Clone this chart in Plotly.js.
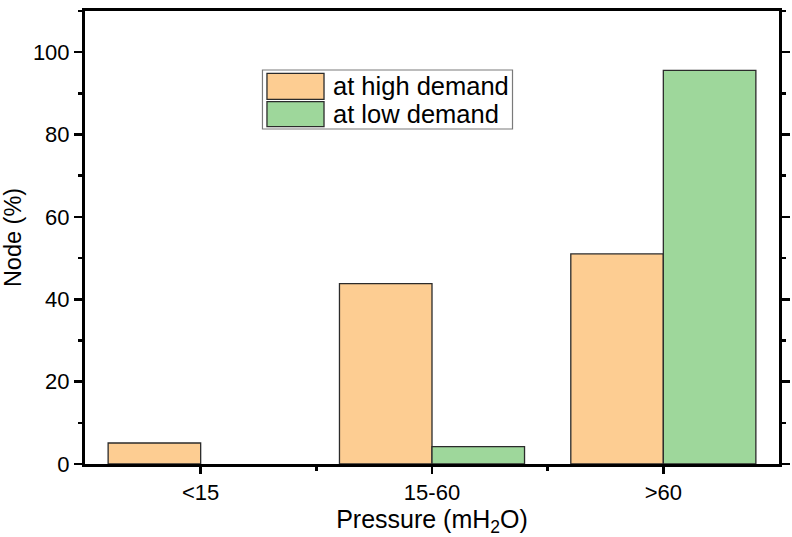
<!DOCTYPE html>
<html>
<head>
<meta charset="utf-8">
<script src="https://cdn.plot.ly/plotly-3.0.1.min.js"></script>
<style>html,body{margin:0;padding:0;background:#fff}#chart{width:792px;height:537px}</style>
</head>
<body>
<div id="chart"></div>
<script>
// ---- data ----
const categories = ['<15', '15-60', '>60'];
const seriesNames = ['at high demand', 'at low demand'];
const highDemand = [5.1, 43.8, 51.0];
const lowDemand = [0, 4.2, 95.6];
const yTickVals = [0, 20, 40, 60, 80, 100];
const yTickText = ['0', '20', '40', '60', '80', '100'];

// ---- styles ----
const colHigh = '#FDCD92';
const colLow = '#9ED79B';
const edge = '#2b2b2b';
const font = "'Liberation Sans', Arial, sans-serif";
const txt = '#000';

const xIdx = categories.map((_, i) => i);
const edgeW = v => (v > 0 ? 1.3 : 0);

const traces = [
  {type: 'bar', name: seriesNames[0], x: xIdx, y: highDemand,
   marker: {color: colHigh, line: {color: edge, width: highDemand.map(edgeW)}}, showlegend: false},
  {type: 'bar', name: seriesNames[1], x: xIdx, y: lowDemand,
   marker: {color: colLow, line: {color: edge, width: lowDemand.map(edgeW)}}, showlegend: false}
];

// custom legend (box, swatches, labels) in paper coords
const lg = {x0: 0.2557, x1: 0.6160, y0: 0.7395, y1: 0.8698};
const sw = [{y0: 0.8050, y1: 0.8625}, {y0: 0.7446, y1: 0.7998}];
const cols = [colHigh, colLow];
const shapes = [
  {type: 'rect', xref: 'paper', yref: 'paper', x0: lg.x0, x1: lg.x1, y0: lg.y0, y1: lg.y1,
   line: {color: '#7a7a7a', width: 1.2}, fillcolor: 'rgba(255,255,255,0)'}
];
const annotations = [];
seriesNames.forEach((n, i) => {
  shapes.push({type: 'rect', xref: 'paper', yref: 'paper', x0: 0.2622, x1: 0.3444,
    y0: sw[i].y0, y1: sw[i].y1, line: {color: edge, width: 1.3}, fillcolor: cols[i]});
  annotations.push({xref: 'paper', yref: 'paper', x: 0.354, y: (sw[i].y0 + sw[i].y1) / 2,
    xanchor: 'left', yanchor: 'middle', text: n, showarrow: false,
    font: {family: font, size: 25.5, color: txt}});
});

const layout = {
  width: 792, height: 537,
  margin: {l: 85, r: 13, t: 11, b: 73},
  paper_bgcolor: '#fff', plot_bgcolor: '#fff',
  barmode: 'group', bargap: 0.2, bargroupgap: 0,
  font: {family: font, color: txt},
  xaxis: {
    range: [-0.5, 2.5], tickmode: 'array', tickvals: xIdx, ticktext: categories,
    showline: true, linecolor: '#000', linewidth: 3, mirror: true,
    ticks: 'outside', ticklen: 7, tickwidth: 2.5, tickcolor: '#000',
    minor: {tickmode: 'array', tickvals: [0.5, 1.5], ticks: 'outside', ticklen: 4, tickwidth: 2.5, tickcolor: '#000'},
    showgrid: false, zeroline: false,
    tickfont: {family: font, size: 22, color: txt},
    title: {text: 'Pressure (mH<sub>2</sub>O)', font: {family: font, size: 25, color: txt}, standoff: 6}
  },
  yaxis: {
    range: [0, 110], tickmode: 'array', tickvals: yTickVals, ticktext: yTickText,
    showline: true, linecolor: '#000', linewidth: 3, mirror: 'ticks',
    ticks: 'outside', ticklen: 8, tickwidth: 2.5, tickcolor: '#000',
    minor: {dtick: 10, tick0: 0, ticks: 'outside', ticklen: 4, tickwidth: 2.5, tickcolor: '#000'},
    showgrid: false, zeroline: false,
    tickfont: {family: font, size: 22, color: txt},
    title: {text: 'Node (%)', font: {family: font, size: 23.5, color: txt}, standoff: 8}
  },
  shapes: shapes,
  annotations: annotations
};

Plotly.newPlot('chart', traces, layout, {displayModeBar: false, staticPlot: true});
</script>
</body>
</html>
